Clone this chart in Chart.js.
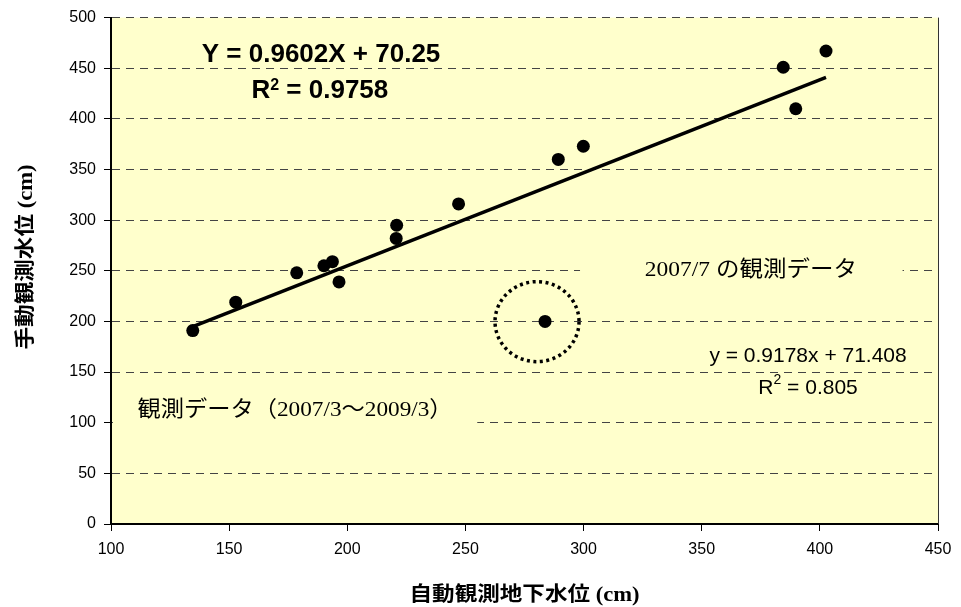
<!DOCTYPE html>
<html><head><meta charset="utf-8">
<script src="https://cdn.jsdelivr.net/npm/chart.js@4.4.1/dist/chart.umd.min.js"></script>
<style>html,body{margin:0;padding:0;background:#fff}canvas{display:block}</style>
</head><body>
<canvas id="c" width="961" height="607"></canvas>
<script>
// ---- data ----
const autoLevel   = [134.6, 152.8, 178.6, 190.1, 193.7, 196.5, 220.7, 220.9, 247.1, 283.7, 289.3, 299.9, 384.5, 389.8, 402.6];
const manualLevel = [191,   219,   248,   255,   259,   239,   282,   295,   316,   200,   360,   373,   451,   410,   467];
const trendX = [134.6, 402.6];
const trendY = [195, 441];
const xTickValues = [100, 150, 200, 250, 300, 350, 400, 450];
const yTickValues = [0, 50, 100, 150, 200, 250, 300, 350, 400, 450, 500];
const xTitle = '自動観測地下水位 (cm)';
const yTitle = '手動観測水位 (cm)';
const eqMain = 'Y = 0.9602X + 70.25';
const r2Main = '0.9758';
const eqAll = 'y = 0.9178x + 71.408';
const r2All = '0.805';
const noteOutlier = '2007/7 の観測データ';
const notePeriod = '観測データ（2007/3～2009/3）';
const outlierX = 280.3, outlierY = 199.8;

const points = autoLevel.map((v, i) => ({x: v, y: manualLevel[i]}));
const trend = trendX.map((v, i) => ({x: v, y: trendY[i]}));

const SERIF_JP = '"Liberation Serif", "Noto Sans CJK JP"';
const SANS = '"Liberation Sans", Arial, sans-serif';
const BG = '#FFFFCC';

function stretched(ctx, text, cx, cy, font, targetW, rot) {
  ctx.save();
  ctx.font = font;
  const w = ctx.measureText(text).width;
  ctx.translate(cx, cy);
  if (rot) ctx.rotate(rot);
  ctx.scale(targetW / w, 1);
  ctx.textAlign = 'center';
  ctx.textBaseline = 'alphabetic';
  ctx.fillStyle = '#000';
  ctx.fillText(text, 0, 0);
  ctx.restore();
}
function r2Text(ctx, value, cx, base, font, supFont, supRise) {
  ctx.save();
  ctx.fillStyle = '#000';
  ctx.textBaseline = 'alphabetic';
  ctx.textAlign = 'left';
  ctx.font = font; const wR = ctx.measureText('R').width;
  const rest = ' = ' + value; const wRest = ctx.measureText(rest).width;
  ctx.font = supFont; const wS = ctx.measureText('2').width;
  let x = cx - (wR + wS + wRest) / 2;
  ctx.font = font; ctx.fillText('R', x, base); x += wR;
  ctx.font = supFont; ctx.fillText('2', x, base - supRise); x += wS;
  ctx.font = font; ctx.fillText(rest, x, base);
  ctx.restore();
}

const deco = {
  id: 'deco',
  beforeDraw(chart) {
    const {ctx, chartArea: a} = chart;
    ctx.save();
    ctx.fillStyle = BG;
    ctx.fillRect(a.left, a.top, a.right - a.left, a.bottom - a.top);
    ctx.restore();
  },
  beforeDatasetsDraw(chart) {
    const {ctx, chartArea: a, scales: {x, y}} = chart;
    ctx.save();
    // text boxes hiding parts of grid lines
    ctx.fillStyle = BG;
    const y100 = y.getPixelForValue(100), y250 = y.getPixelForValue(250);
    ctx.fillRect(a.left + 2, y100 - 3, x.getPixelForValue(255) - a.left - 2, 6);
    ctx.fillRect(x.getPixelForValue(298.5), y250 - 3, x.getPixelForValue(435) - x.getPixelForValue(298.5), 6);
    // right border
    ctx.strokeStyle = '#333';
    ctx.lineWidth = 1;
    ctx.beginPath();
    ctx.moveTo(a.right + 0.5, a.top);
    ctx.lineTo(a.right + 0.5, a.bottom);
    ctx.stroke();
    // dotted circle around the 2007/7 observation
    ctx.strokeStyle = '#000';
    ctx.lineWidth = 3.5;
    ctx.setLineDash([3, 3.5]);
    ctx.beginPath();
    ctx.ellipse(x.getPixelForValue(outlierX), y.getPixelForValue(outlierY), 42, 40, 0, 0, Math.PI * 2);
    ctx.stroke();
    ctx.restore();
  },
  afterDraw(chart) {
    const {ctx, chartArea: a, scales: {x, y}} = chart;
    // equations (bold, top left)
    ctx.save();
    ctx.fillStyle = '#000';
    ctx.font = 'bold 26px ' + SANS;
    ctx.textAlign = 'center';
    ctx.textBaseline = 'alphabetic';
    ctx.fillText(eqMain, x.getPixelForValue(188.9), y.getPixelForValue(456));
    ctx.restore();
    r2Text(ctx, r2Main, x.getPixelForValue(188.4), y.getPixelForValue(420.5), 'bold 26px ' + SANS, 'bold 16px ' + SANS, 8);
    // equation (regular, lower right)
    ctx.save();
    ctx.fillStyle = '#000';
    ctx.font = '21px ' + SANS;
    ctx.textAlign = 'center';
    ctx.fillText(eqAll, x.getPixelForValue(395), y.getPixelForValue(160));
    ctx.restore();
    r2Text(ctx, r2All, x.getPixelForValue(395), y.getPixelForValue(128), '21px ' + SANS, '14px ' + SANS, 10);
    // notes
    stretched(ctx, noteOutlier, x.getPixelForValue(370.8), y.getPixelForValue(245), '22px ' + SERIF_JP, 212);
    stretched(ctx, notePeriod, x.getPixelForValue(177.9), y.getPixelForValue(106.3), '22px ' + SERIF_JP, 315);
    // axis titles
    stretched(ctx, xTitle, (a.left + a.right) / 2, 601, 'bold 20px ' + SERIF_JP, 230);
    stretched(ctx, yTitle, 32, 257, 'bold 20px ' + SERIF_JP, 185, -Math.PI / 2);
  }
};

new Chart(document.getElementById('c'), {
  type: 'scatter',
  data: {
    datasets: [
      {label: 'obs', data: points, backgroundColor: '#000', borderColor: '#000', pointRadius: 6.5, pointBorderWidth: 0, pointHoverRadius: 6.5},
      {label: 'trend', data: trend, showLine: true, borderColor: '#000', borderWidth: 3.5, pointRadius: 0, fill: false}
    ]
  },
  options: {
    responsive: false,
    animation: false,
    devicePixelRatio: 1,
    layout: {padding: {top: 16, right: 23, left: 0, bottom: 0}},
    plugins: {legend: {display: false}, tooltip: {enabled: false}},
    scales: {
      x: {
        type: 'linear', min: 100, max: 450,
        afterBuildTicks: s => { s.ticks = xTickValues.map(v => ({value: v})); },
        afterFit: s => { s.height = 83; },
        ticks: {font: {family: SANS, size: 16}, color: '#000', padding: 9, maxRotation: 0},
        grid: {drawOnChartArea: false, drawTicks: true, tickLength: 7, tickColor: '#000', tickWidth: 1},
        border: {color: '#000', width: 2}
      },
      y: {
        type: 'linear', min: 0, max: 500,
        afterBuildTicks: s => { s.ticks = yTickValues.map(v => ({value: v})); },
        afterFit: s => { s.width = 111; },
        ticks: {font: {family: SANS, size: 16}, color: '#000', padding: 8},
        grid: {color: '#444', lineWidth: 1, drawTicks: true, tickLength: 7, tickColor: '#000', tickWidth: 1},
        border: {color: '#000', width: 2, dash: [8, 6]}
      }
    }
  },
  plugins: [deco]
});
</script>
</body></html>
